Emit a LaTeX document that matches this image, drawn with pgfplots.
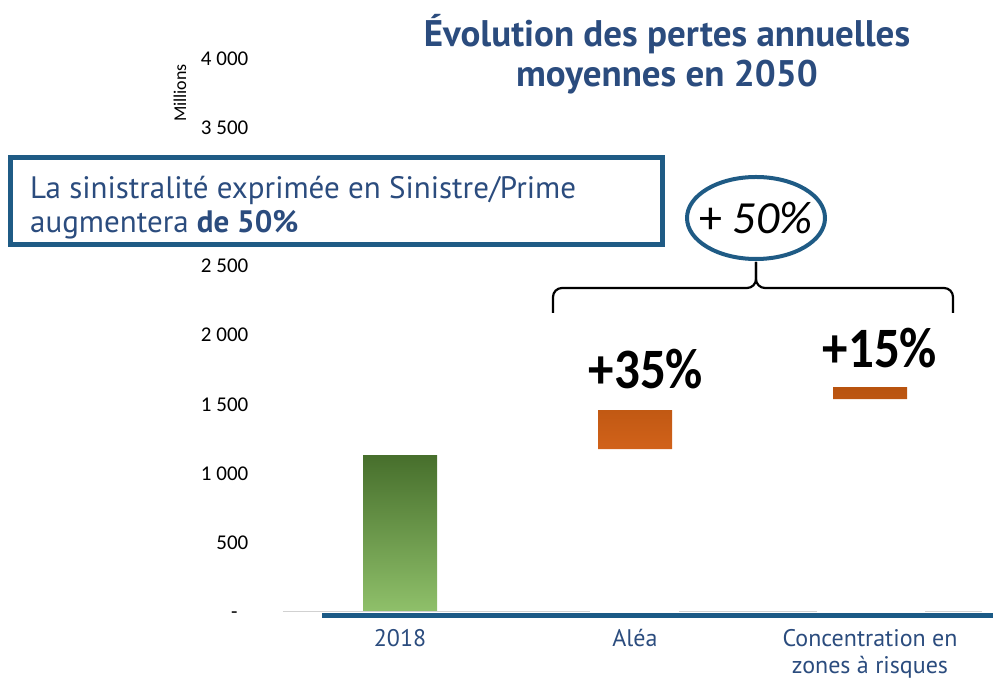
\documentclass[border=0pt]{standalone}
\usepackage{pgfplots}
\pgfplotsset{compat=1.18}
\usepackage{graphicx}
\usepackage{fontspec}
\setmainfont{PT Sans}
\newfontfamily\calib{Carlito}
\definecolor{titleblue}{HTML}{2B4C7E}
\definecolor{boxblue}{HTML}{1F5B85}
\definecolor{axisblue}{HTML}{1B5A86}
\definecolor{gtop}{HTML}{476F2C}
\definecolor{gmid}{HTML}{66A23F}
\definecolor{gbot}{HTML}{8FC06A}
\definecolor{otop}{HTML}{B8530F}
\definecolor{obot}{HTML}{D1621A}

\begin{document}
\begin{tikzpicture}
\path[use as bounding box] (0,0) rectangle (993pt,682pt);
\begin{axis}[
  at={(282.5pt,70.5pt)}, anchor=south west, scale only axis,
  width=705pt, height=552.5pt,
  xmin=-0.5, xmax=2.5, ymin=0, ymax=4000,
  enlargelimits=false, clip=false,
  ybar stacked, bar width=74pt,
  axis line style={draw=none}, major tick length=0pt,
  xtick={0,1,2},
  xticklabels={2018,Aléa,{Concentration en\\zones à risques}},
  xticklabel style={align=center, text=titleblue,
    font=\fontsize{24}{27}\selectfont, anchor=north, inner sep=0pt, yshift=-18pt},
  ytick={0,500,1000,1500,2000,2500,3000,3500,4000},
  % 3 000 sits under the message box in the reference
  yticklabels={{-\phantom{0}},500,1 000,1 500,2 000,2 500,{},3 500,4 000},
  yticklabel style={font=\calib\fontsize{21}{21}\selectfont,
    anchor=east, inner sep=0pt, xshift=-34pt},
]
% faint baseline pieces
\draw[black!18, line width=1.2pt] (axis cs:-0.498,0) -- (axis cs:0.808,0);
\draw[black!18, line width=1.2pt] (axis cs:1.187,0) -- (axis cs:1.774,0);
\draw[black!18, line width=1.2pt] (axis cs:2.234,0) -- (axis cs:2.477,0);
% invisible base, then the visible parts
\addplot[draw=none, fill=none] coordinates {(0,0) (1,1176) (2,1538)};
\addplot[draw=none, top color=gtop, middle color=gmid, bottom color=gbot]
  coordinates {(0,1130) (1,0) (2,0)};
\addplot[draw=none, top color=otop, bottom color=obot]
  coordinates {(0,0) (1,282) (2,86)};
\end{axis}

\begin{scope}[x=1pt, y=-1pt, yshift=682pt]
\draw[axisblue, line width=4.5pt] (322,615.5) -- (993,615.5);
\node[rotate=90, font=\calib\fontsize{18}{18}\selectfont] at (180,93) {Millions};
\node[text=titleblue, font=\bfseries\fontsize{37}{40}\selectfont, align=center]
  at (667,54) {Évolution des pertes annuelles\\moyennes en 2050};
% message box
\draw[boxblue, line width=5pt, fill=white] (10.5,157.5) rectangle (662.5,244.5);
\node[anchor=base west, text=titleblue, font=\fontsize{31}{34}\selectfont, inner sep=0pt]
  at (30,199) {La sinistralité exprimée en Sinistre/Prime};
\node[anchor=base west, text=titleblue, font=\fontsize{31}{34}\selectfont, inner sep=0pt]
  at (30,233) {augmentera \textbf{de 50\%}};
% ellipse and brace
\draw[boxblue, line width=4pt] (756,218) ellipse [x radius=69, y radius=41];
\node[font=\calib\fontsize{46}{46}\selectfont] at (756,218) {+ \textit{50\%}};
\draw[line width=2.2pt, rounded corners=9pt] (553,313) -- (553,288) -- (756,288) -- (756,262);
\draw[line width=2.2pt, rounded corners=9pt] (756,262) -- (756,288) -- (953,288) -- (953,313);
% percentage labels
\node[anchor=base, inner sep=0pt, font=\calib\bfseries\fontsize{51}{51}\selectfont]
  at (646,389) {\scalebox{1}[1.12]{+35\%}};
\node[anchor=base, inner sep=0pt, font=\calib\bfseries\fontsize{51}{51}\selectfont]
  at (880,368) {\scalebox{1}[1.12]{+15\%}};
\end{scope}
\end{tikzpicture}
\end{document}
